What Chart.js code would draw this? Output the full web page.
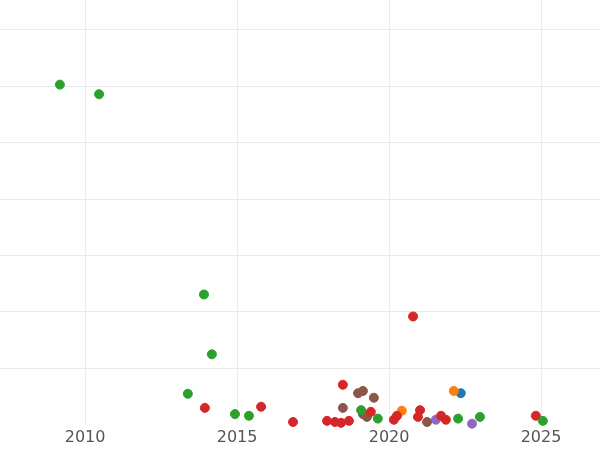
<!DOCTYPE html>
<html>
<head>
<meta charset="utf-8">
<script src="https://cdn.jsdelivr.net/npm/chart.js@4/dist/chart.umd.min.js"></script>
<style>
  html, body { margin: 0; padding: 0; background: #fff; }
  #wrap { width: 600px; height: 450px; }
</style>
</head>
<body>
<div id="wrap"><canvas id="chart"></canvas></div>
<script>
// [year, value] pairs per group
const greenPts = [[2009.17, 60.3], [2010.46, 58.6], [2013.91, 23.1], [2014.17, 12.5], [2013.38, 5.5],
  [2014.93, 1.9], [2015.39, 1.6], [2019.08, 2.6], [2019.63, 1.1], [2022.27, 1.1], [2022.99, 1.4], [2025.06, 0.7]];
const redPts = [[2020.79, 19.2], [2018.48, 7.1], [2013.94, 3.0], [2015.79, 3.2], [2016.84, 0.5], [2017.96, 0.7],
  [2018.22, 0.5], [2018.42, 0.35], [2018.68, 0.7], [2019.40, 2.3], [2020.16, 0.9], [2020.26, 1.6],
  [2020.95, 1.4], [2021.02, 2.6], [2021.71, 1.6], [2021.87, 0.9], [2024.83, 1.6]];
const brownPts = [[2018.98, 5.6], [2019.14, 6.0], [2019.50, 4.8], [2018.48, 3.0], [2019.14, 1.9], [2019.27, 1.4], [2021.25, 0.5]];
const orangePts = [[2022.13, 6.0], [2020.42, 2.5]];
const bluePts = [[2022.36, 5.6]];
const purplePts = [[2021.54, 0.9], [2022.73, 0.2]];
const xTicks = [2010, 2015, 2020, 2025];

const toXY = pts => pts.map(p => ({ x: p[0], y: p[1] }));
const ds = (pts, color) => ({
  data: toXY(pts), backgroundColor: color, borderColor: color,
  pointRadius: 4.5, pointHoverRadius: 5, clip: false
});

new Chart(document.getElementById('chart'), {
  type: 'scatter',
  data: {
    datasets: [
      ds(greenPts, '#2ca02c'),
      ds(redPts, '#d62728'),
      ds(brownPts, '#8c564b'),
      ds(orangePts, '#ff7f0e'),
      ds(bluePts, '#1f77b4'),
      ds(purplePts, '#9467bd')
    ]
  },
  options: {
    responsive: true,
    maintainAspectRatio: false,
    animation: false,
    layout: { padding: 0, autoPadding: false },
    plugins: { legend: { display: false }, tooltip: { enabled: false } },
    scales: {
      x: {
        type: 'linear', min: 2007.2, max: 2026.94,
        afterBuildTicks: axis => { axis.ticks = xTicks.map(v => ({ value: v })); },
        ticks: { color: '#555', font: { family: 'DejaVu Sans', size: 16 }, padding: 3,
                 callback: v => String(v) },
        grid: { color: '#ebebeb', drawTicks: false },
        border: { display: false }
      },
      y: {
        min: 0, max: 75.3,
        afterBuildTicks: axis => { axis.ticks = [10, 20, 30, 40, 50, 60, 70].map(v => ({ value: v })); },
        ticks: { display: false },
        grid: { color: '#ebebeb', drawTicks: false },
        border: { display: false }
      }
    }
  }
});
</script>
</body>
</html>
